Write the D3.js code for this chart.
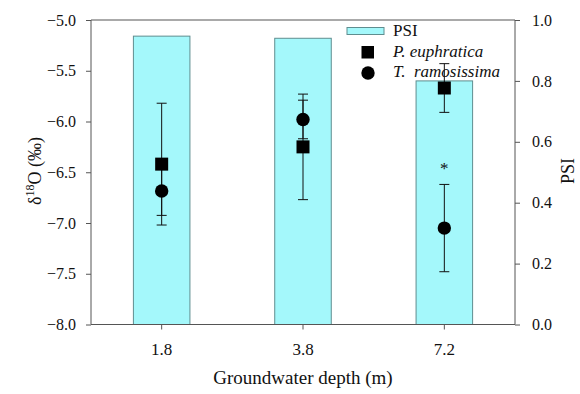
<!DOCTYPE html>
<html>
<head>
<meta charset="utf-8">
<script src="https://cdn.jsdelivr.net/npm/d3@7"></script>
<style>
  body { margin: 0; background: #fff; }
</style>
</head>
<body>
<svg id="chart" width="580" height="394"></svg>
<script>
const depths = ["1.8", "3.8", "7.2"];
const psi = [0.947, 0.94, 0.80];
const peMean = [-6.42, -6.25, -5.67];
const peErr = [0.60, 0.52, 0.24];
const trMean = [-6.685, -5.98, -7.05];
const trErr = [0.24, 0.19, 0.43];
const leftTicks = [-5.0, -5.5, -6.0, -6.5, -7.0, -7.5, -8.0];
const rightTicks = [0, 0.2, 0.4, 0.6, 0.8, 1.0];
const legendLabels = ["PSI", "P. euphratica", "T.  ramosissima"];
const starAt = [null, null, "*"];

const svg = d3.select("#chart");
const plotL = 91, plotR = 515, plotT = 20, plotB = 324.5;
const axisColor = "#555";
const serif = "'Liberation Serif', 'Times New Roman', Times, serif";

const x = d3.scaleBand().domain(depths).range([plotL, plotR]).paddingInner(0.6).paddingOuter(0.3);
const y = d3.scaleLinear().domain([-8, -5]).range([plotB, plotT]);
const yPsi = d3.scaleLinear().domain([0, 1]).range([plotB, plotT]);
const cx = (d) => x(d) + x.bandwidth() / 2;

// PSI bars
svg.append("g")
  .selectAll("rect")
  .data(depths)
  .join("rect")
  .attr("x", (d) => x(d))
  .attr("width", x.bandwidth())
  .attr("y", (d, i) => yPsi(psi[i]))
  .attr("height", (d, i) => plotB - yPsi(psi[i]))
  .attr("fill", "#a4f8fb")
  .attr("stroke", "#5f8d8f")
  .attr("stroke-width", 1);

// error bars
function errorBars(mean, err) {
  const g = svg.append("g").attr("stroke", "#111").attr("stroke-width", 1);
  depths.forEach((d, i) => {
    const xc = cx(d);
    const y1 = y(mean[i] + err[i]), y2 = y(mean[i] - err[i]);
    g.append("line").attr("x1", xc).attr("x2", xc).attr("y1", y1).attr("y2", y2);
    [y1, y2].forEach((yy) => {
      g.append("line").attr("x1", xc - 5).attr("x2", xc + 5).attr("y1", yy).attr("y2", yy);
    });
  });
}
errorBars(peMean, peErr);
errorBars(trMean, trErr);

// markers
svg.append("g")
  .selectAll("rect")
  .data(depths)
  .join("rect")
  .attr("x", (d) => cx(d) - 6.5)
  .attr("y", (d, i) => y(peMean[i]) - 6.5)
  .attr("width", 13)
  .attr("height", 13)
  .attr("fill", "#000");

svg.append("g")
  .selectAll("circle")
  .data(depths)
  .join("circle")
  .attr("cx", (d) => cx(d))
  .attr("cy", (d, i) => y(trMean[i]))
  .attr("r", 6.7)
  .attr("fill", "#000");

// significance mark
svg.append("g")
  .selectAll("text")
  .data(depths.filter((d, i) => starAt[i]))
  .join("text")
  .attr("x", (d) => cx(d))
  .attr("y", (d) => y(trMean[depths.indexOf(d)] + trErr[depths.indexOf(d)]) - 10)
  .attr("text-anchor", "middle")
  .style("font-size", "17px")
  .text("*");

// axes
const fmt = d3.format(".1f");
const yAxis = svg.append("g")
  .attr("transform", `translate(${plotL},0)`)
  .call(d3.axisLeft(y).tickValues(leftTicks).tickFormat((v) => fmt(v).replace("-", "\u2212")).tickSize(5).tickPadding(10));

const psiAxis = svg.append("g")
  .attr("transform", `translate(${plotR},0)`)
  .call(d3.axisRight(yPsi).tickValues(rightTicks).tickFormat(fmt).tickSize(5).tickPadding(12));

const xAxis = svg.append("g")
  .attr("transform", `translate(0,${plotB})`)
  .call(d3.axisBottom(x).tickSize(5).tickPadding(13).tickSizeOuter(0));

[yAxis, psiAxis, xAxis].forEach((g) => {
  g.attr("font-family", null).attr("font-size", null);
  g.selectAll("path").attr("stroke", axisColor);
  g.selectAll("line").attr("stroke", axisColor);
  g.selectAll("text").style("font-size", "16px").attr("fill", "#111");
});
xAxis.selectAll("text").style("font-size", "17px");
yAxis.select(".domain").attr("d", `M0,${plotT}V${plotB}`);
psiAxis.select(".domain").attr("d", `M0,${plotT}V${plotB}`);
xAxis.select(".domain").attr("d", `M${plotL},0H${plotR}`);

svg.append("line")
  .attr("x1", plotL).attr("x2", plotR).attr("y1", plotT).attr("y2", plotT)
  .attr("stroke", axisColor);

// axis titles
svg.append("text")
  .attr("x", (plotL + plotR) / 2)
  .attr("y", 384)
  .attr("text-anchor", "middle")
  .style("font-size", "19px")
  .text("Groundwater depth (m)");

const yt = svg.append("text")
  .attr("transform", `translate(41,171) rotate(-90)`)
  .attr("text-anchor", "middle")
  .style("font-size", "18px");
yt.append("tspan").text("\u03b4");
yt.append("tspan").style("font-size", "12px").attr("dy", -7).text("18");
yt.append("tspan").attr("dy", 7).text("O (\u2030)");

svg.append("text")
  .attr("transform", `translate(574,171) rotate(-90)`)
  .attr("text-anchor", "middle")
  .style("font-size", "18px")
  .text("PSI");

// legend
const lg = svg.append("g");
lg.append("rect")
  .attr("x", 347).attr("y", 27.5).attr("width", 37).attr("height", 7)
  .attr("fill", "#a4f8fb").attr("stroke", "#5f8d8f");
lg.append("rect")
  .attr("x", 361.5).attr("y", 46).attr("width", 12.5).attr("height", 12.5).attr("fill", "#000");
lg.append("circle")
  .attr("cx", 368).attr("cy", 73).attr("r", 6.7).attr("fill", "#000");
lg.selectAll("text")
  .data(legendLabels)
  .join("text")
  .attr("x", 393)
  .attr("y", (d, i) => 36 + i * 20.5)
  .style("font-size", "17px")
  .style("font-style", (d, i) => (i > 0 ? "italic" : "normal"))
  .style("white-space", "pre")
  .text((d) => d);

svg.selectAll("text").style("font-family", serif).style("fill", "#111");
</script>
</body>
</html>
